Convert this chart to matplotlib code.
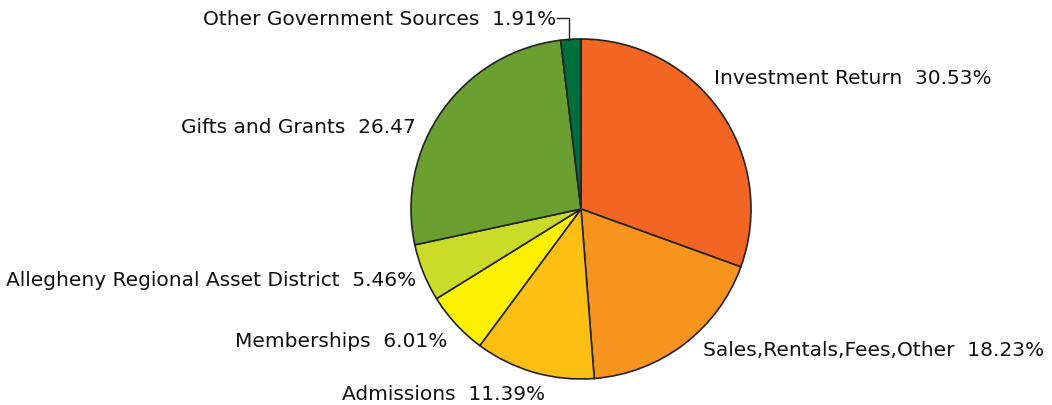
import matplotlib
matplotlib.use("Agg")
import matplotlib.pyplot as plt

categories = ["Investment Return", "Sales,Rentals,Fees,Other", "Admissions", "Memberships",
              "Allegheny Regional Asset District", "Gifts and Grants", "Other Government Sources"]
values = [30.53, 18.23, 11.39, 6.01, 5.46, 26.47, 1.91]
value_labels = ["30.53%", "18.23%", "11.39%", "6.01%", "5.46%", "26.47", "1.91%"]
colors = ["#F26522", "#F7941E", "#FDBF13", "#FFF200", "#CBDB2A", "#6BA030", "#00703C"]

plt.rcParams['font.family'] = ['DejaVu Sans']

W, H = 1052, 406
fig = plt.figure(figsize=(W / 100, H / 100), dpi=100)
cx, cy, r = 581, 210, 170
ax = fig.add_axes([(cx - r) / W, (H - cy - r) / H, 2 * r / W, 2 * r / H])
ax.pie(values, colors=colors, startangle=90, counterclock=False, radius=1,
       wedgeprops=dict(edgecolor="#222222", linewidth=1.2))
ax.set_xlim(-1, 1)
ax.set_ylim(-1, 1)
ax.set_aspect("equal")
ax.axis("off")

# label positions (data coords) and alignment
pos = [(0.782, 0.776, "left"), (0.718, -0.829, "left"), (-0.212, -1.088, "right"),
       (-0.788, -0.771, "right"), (-0.971, -0.412, "right"), (-0.971, 0.488, "right"),
       (-0.147, 1.118, "right")]
for name, vl, (x, y, ha) in zip(categories, value_labels, pos):
    ax.text(x, y, f"{name}  {vl}", ha=ha, va="center", fontsize=14.5, color="#111111",
            clip_on=False)

# leader line for Other Government Sources
ax.plot([-0.141, -0.071, -0.071], [1.125, 1.125, 0.995], color="#222222", lw=1,
        clip_on=False)

fig.savefig("out.png", dpi=100)
